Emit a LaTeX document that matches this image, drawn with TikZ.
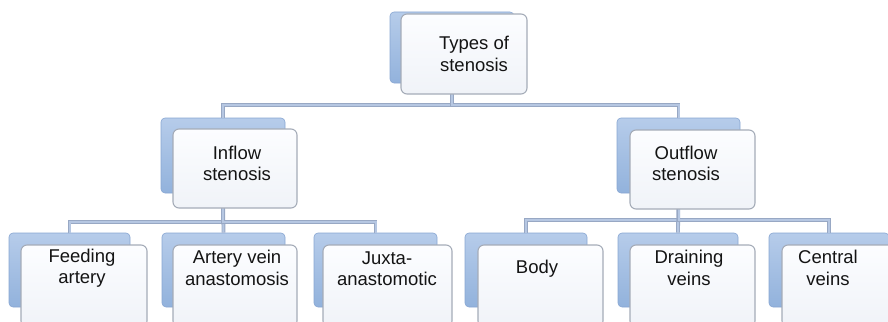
\documentclass[tikz,border=0pt]{standalone}
\usepackage{fontspec}
\setmainfont{Liberation Sans}
\begin{document}
\begin{tikzpicture}[x=1pt,y=-1pt,
  back/.style={rectangle, rounded corners=4pt, inner sep=0pt,
    top color={rgb,255:red,182;green,204;blue,234},
    bottom color={rgb,255:red,146;green,178;blue,220},
    draw={rgb,255:red,136;green,166;blue,210}, line width=0.6pt},
  front/.style={rectangle, rounded corners=6pt, inner sep=0pt,
    top color={rgb,255:red,252;green,253;blue,255},
    bottom color={rgb,255:red,240;green,243;blue,248},
    draw={rgb,255:red,165;green,172;blue,184}, line width=1.1pt},
  lbl/.style={align=center, inner sep=0pt, text={rgb,255:red,20;green,20;blue,20},
    font=\fontsize{18.5}{21.5}\selectfont},
  conn/.style={draw={rgb,255:red,152;green,168;blue,196}, line width=0.9pt,
    double={rgb,255:red,182;green,199;blue,226}, double distance=2pt}]
\useasboundingbox (0,0) rectangle (888,321);
\clip (0,0) rectangle (888,321);

% raised blue backs of the boxes
\node[back, minimum width=124, minimum height=71] (types-s)   at (452,47.5) {};
\node[back, minimum width=124, minimum height=75] (inflow-s)  at (223,155.5) {};
\node[back, minimum width=123, minimum height=75] (outflow-s) at (678.5,155.5) {};
\node[back, minimum width=121, minimum height=74] (feed-s)    at (69.5,270) {};
\node[back, minimum width=123, minimum height=74] (avf-s)     at (223.5,270) {};
\node[back, minimum width=123, minimum height=74] (juxta-s)   at (375.5,270) {};
\node[back, minimum width=122, minimum height=74] (body-s)    at (526,270) {};
\node[back, minimum width=120, minimum height=74] (drain-s)   at (678,270) {};
\node[back, minimum width=120, minimum height=74] (central-s) at (829,270) {};

% tree connectors
\draw[conn] (types-s.south) -- ++(0,22) -| (inflow-s.north);
\draw[conn] (types-s.south) -- ++(0,22) -| (outflow-s.north);
\draw[conn] (inflow-s.south) -- ++(0,29) -| (feed-s.north);
\draw[conn] (inflow-s.south) -- (avf-s.north);
\draw[conn] (inflow-s.south) -- ++(0,29) -| (juxta-s.north);
\draw[conn] (outflow-s.south) -- ++(0,27) -| (body-s.north);
\draw[conn] (outflow-s.south) -- (drain-s.north);
\draw[conn] (outflow-s.south) -- ++(0,27) -| (central-s.north);

% white front faces
\node[front, minimum width=126, minimum height=80] (types)   at (464,54) {};
\node[front, minimum width=124, minimum height=79] (inflow)  at (235,168.5) {};
\node[front, minimum width=125, minimum height=79] (outflow) at (692.5,169.5) {};
\node[front, minimum width=126, minimum height=82] (feed)    at (84,286) {};
\node[front, minimum width=124, minimum height=82] (avf)     at (235,286) {};
\node[front, minimum width=129, minimum height=82] (juxta)   at (387.5,286) {};
\node[front, minimum width=125, minimum height=82] (body)    at (540.5,286) {};
\node[front, minimum width=125, minimum height=82] (drain)   at (692.5,286) {};
\node[front, minimum width=125, minimum height=82] (central) at (844.5,286) {};

% labels
\node[lbl] (types-t)   at (474,54)    {Types of\\stenosis};
\node[lbl] (inflow-t)  at (237,163.5) {Inflow\\stenosis};
\node[lbl] (outflow-t) at (686,163.5) {Outflow\\stenosis};
\node[lbl] (feed-t)    at (82,268)    {Feeding\\artery};
\node[lbl] (avf-t)     at (237,268)   {Artery vein\\anastomosis};
\node[lbl] (juxta-t)   at (387,268.5) {Juxta-\\anastomotic};
\node[lbl] (body-t)    at (537,269)   {Body};
\node[lbl] (drain-t)   at (689,268)   {Draining\\veins};
\node[lbl] (central-t) at (828,268)   {Central\\veins};
\end{tikzpicture}
\end{document}
